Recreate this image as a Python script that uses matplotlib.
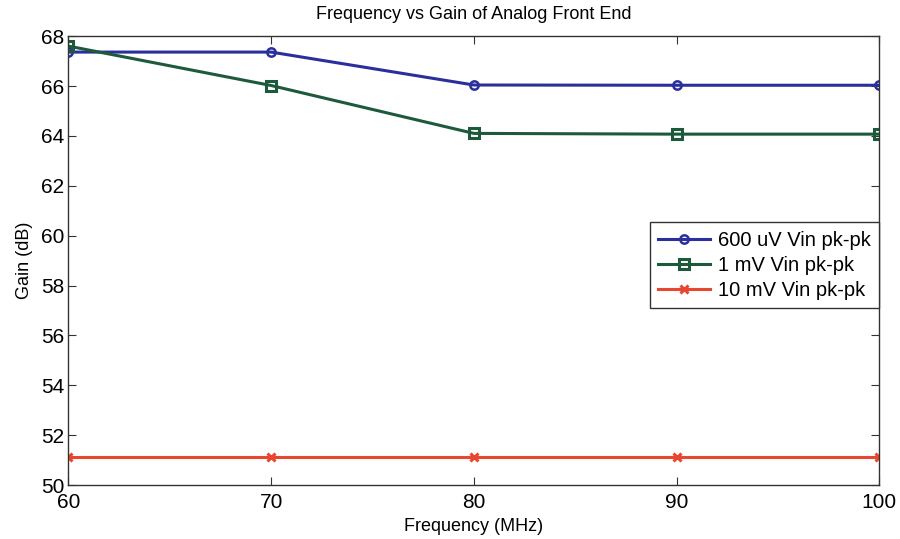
import matplotlib
matplotlib.use("Agg")
import matplotlib.pyplot as plt

freq = [60, 70, 80, 90, 100]  # MHz
gain_600uv = [67.36, 67.36, 66.04, 66.03, 66.03]
gain_1mv = [67.6, 66.02, 64.1, 64.07, 64.07]
gain_10mv = [51.12, 51.12, 51.12, 51.12, 51.12]
labels = ["600 uV Vin pk-pk", "1 mV Vin pk-pk", "10 mV Vin pk-pk"]

plt.rcParams['font.family'] = ['Liberation Sans', 'DejaVu Sans']

fig = plt.figure(figsize=(9, 5.39), dpi=100)
ax = fig.add_axes([0.076, 0.1, 0.901, 0.833])

ax.plot(freq, gain_600uv, color='#2b2f9c', lw=2.2, marker='o', ms=6, mfc='none', mew=1.8, label=labels[0])
ax.plot(freq, gain_1mv, color='#1d5a3c', lw=2.2, marker='s', ms=6.5, mfc='none', mew=2.2, label=labels[1])
ax.plot(freq, gain_10mv, color='#e8462e', lw=2.2, marker='x', ms=6, mew=2.2, label=labels[2])

ax.set_xlim(60, 100)
ax.set_ylim(50, 68)
ax.set_xticks(freq)
ax.set_yticks(range(50, 69, 2))
ax.tick_params(direction='in', labelsize=15, length=6, top=True, right=True, color='#333333')
ax.tick_params(axis='x', pad=6)
ax.tick_params(axis='y', pad=3)
for s in ax.spines.values():
    s.set_color('#333333')
    s.set_linewidth(1.0)

ax.set_title("Frequency vs Gain of Analog Front End", fontsize=13, pad=12)
ax.set_xlabel("Frequency (MHz)", fontsize=13, labelpad=4)
ax.set_ylabel("Gain (dB)", fontsize=13, labelpad=6)

leg = ax.legend(loc='center right', bbox_to_anchor=(1.0, 0.49), fontsize=14.5, fancybox=False,
                framealpha=1, edgecolor='#333333', borderaxespad=0, handlelength=2.6,
                labelspacing=0.3, borderpad=0.4, handletextpad=0.4)
leg.get_frame().set_linewidth(1.0)

fig.savefig("out.png", dpi=100)
